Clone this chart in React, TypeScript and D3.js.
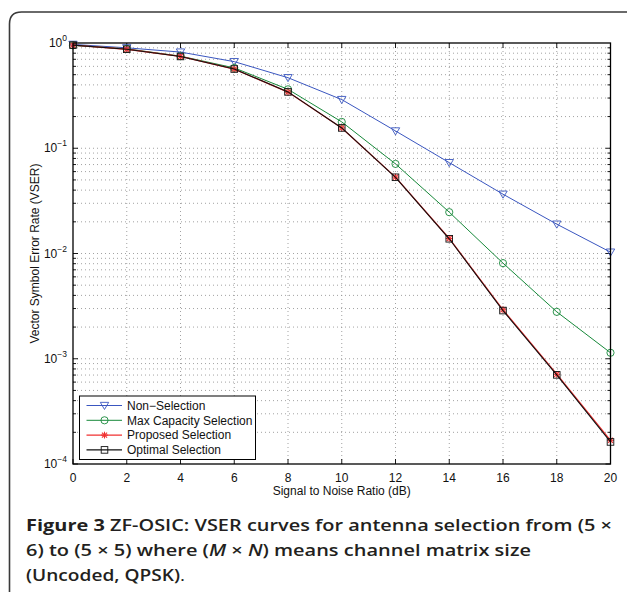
import React from "react";
import * as d3 from "d3";

// SNR points (dB)
const snr = [0, 2, 4, 6, 8, 10, 12, 14, 16, 18, 20];

// VSER values
const nonSelection = [0.97, 0.9, 0.82, 0.665, 0.468, 0.29, 0.146, 0.073, 0.0366, 0.019, 0.0103];
const maxCapacity = [0.95, 0.88, 0.75, 0.58, 0.363, 0.178, 0.071, 0.0247, 0.0081, 0.00279, 0.00114];
const proposed = [0.955, 0.872, 0.745, 0.565, 0.342, 0.156, 0.0532, 0.0139, 0.00292, 0.000712, 0.000168];
const optimal = [0.955, 0.872, 0.745, 0.566, 0.343, 0.156, 0.053, 0.0138, 0.00287, 0.000703, 0.000162];

const xTicks = [0, 2, 4, 6, 8, 10, 12, 14, 16, 18, 20];
const yExponents = [0, -1, -2, -3, -4];

const legendNames = ["Non\u2212Selection", "Max Capacity Selection", "Proposed Selection", "Optimal Selection"];

const W = 627;
const H = 592;
const left = 73, right = 610.5, top = 43, bottom = 464;

const BLUE = "#3a56c0";
const GREEN = "#17893a";
const RED = "#f03030";
const BLACK = "#111";

function Marker(props: { kind: string; x: number; y: number; color: string }) {
    const { kind, x, y, color } = props;
    if (kind === "tri") {
        const s = 4.2;
        return <path d={`M${x - s},${y - s * 0.75}L${x + s},${y - s * 0.75}L${x},${y + s * 0.95}Z`} fill="none" stroke={color} strokeWidth={0.9} />;
    }
    if (kind === "circ") {
        return <circle cx={x} cy={y} r={3.6} fill="none" stroke={color} strokeWidth={0.9} />;
    }
    if (kind === "star") {
        const s = 3.4;
        return (
            <g stroke={color} strokeWidth={1.1}>
                <line x1={x - s} y1={y} x2={x + s} y2={y} />
                <line x1={x} y1={y - s} x2={x} y2={y + s} />
                <line x1={x - s * 0.75} y1={y - s * 0.75} x2={x + s * 0.75} y2={y + s * 0.75} />
                <line x1={x - s * 0.75} y1={y + s * 0.75} x2={x + s * 0.75} y2={y - s * 0.75} />
            </g>
        );
    }
    const s = 3.3;
    return <rect x={x - s} y={y - s} width={2 * s} height={2 * s} fill="none" stroke={color} strokeWidth={0.9} />;
}

export default function App() {
    const x = d3.scaleLinear().domain([0, 20]).range([left, right]);
    const y = d3.scaleLog().domain([1e-4, 1]).range([bottom, top]);

    const line = d3.line<number>()
        .x((_, i) => x(snr[i]))
        .y(d => y(d));

    const series = [
        { name: legendNames[0], values: nonSelection, color: BLUE, kind: "tri", width: 1 },
        { name: legendNames[1], values: maxCapacity, color: GREEN, kind: "circ", width: 1 },
        { name: legendNames[2], values: proposed, color: RED, kind: "star", width: 1.3 },
        { name: legendNames[3], values: optimal, color: BLACK, kind: "sq", width: 1.1 },
    ];

    // minor log positions
    const minors: number[] = [];
    for (let e = -4; e < 0; e++) {
        for (let k = 1; k <= 9; k++) minors.push(k * Math.pow(10, e));
    }

    const font = "'Liberation Sans', Arial, Helvetica, sans-serif";

    return (
        <svg width={W} height={H} style={{ position: "absolute", left: 0, top: 0 }} fontFamily={font}>
            <rect width={W} height={H} fill="#fff" />
            {/* outer frame */}
            <path d={`M9.5,${H}L9.5,24 Q9.5,12 21.5,12 L${W + 2},12`} fill="none" stroke="#3a3a3a" strokeWidth={1.6} />

            {/* grid */}
            <g stroke="#8a8a8a" strokeWidth={0.8} strokeDasharray="1,3">
                {xTicks.slice(1, -1).map(t => (
                    <line key={"gx" + t} x1={x(t)} x2={x(t)} y1={top} y2={bottom} />
                ))}
                {minors.slice(1).map((v, i) => (
                    <line key={"gy" + i} x1={left} x2={right} y1={y(v)} y2={y(v)} />
                ))}
            </g>

            {/* ticks */}
            <g stroke="#000" strokeWidth={0.9}>
                {xTicks.map(t => (
                    <g key={"tx" + t}>
                        <line x1={x(t)} x2={x(t)} y1={bottom} y2={bottom - 5} />
                        <line x1={x(t)} x2={x(t)} y1={top} y2={top + 5} />
                    </g>
                ))}
                {minors.map((v, i) => {
                    const len = i % 9 === 0 ? 5 : 3;
                    return (
                        <g key={"ty" + i}>
                            <line x1={left} x2={left + len} y1={y(v)} y2={y(v)} />
                            <line x1={right} x2={right - len} y1={y(v)} y2={y(v)} />
                        </g>
                    );
                })}
            </g>

            {/* series */}
            {series.map(s => (
                <g key={s.name}>
                    <path d={line(s.values) || ""} fill="none" stroke={s.color} strokeWidth={s.width} />
                    {s.values.map((v, i) => (
                        <Marker key={i} kind={s.kind} x={x(snr[i])} y={y(v)} color={s.color} />
                    ))}
                </g>
            ))}

            {/* axes box */}
            <rect x={left} y={top} width={right - left} height={bottom - top} fill="none" stroke="#000" strokeWidth={1.3} />

            {/* tick labels */}
            <g fontSize={12} fill="#111">
                {xTicks.map(t => (
                    <text key={"lx" + t} x={x(t)} y={482} textAnchor="middle">{t}</text>
                ))}
                {yExponents.map(e => (
                    <text key={"ly" + e} x={67} y={y(Math.pow(10, e)) + 4} textAnchor="end">
                        10
                        <tspan fontSize={8.5} dy={-6}>{e === 0 ? "0" : "\u2212" + -e}</tspan>
                    </text>
                ))}
            </g>

            {/* axis titles */}
            <text x={(left + right) / 2} y={495} textAnchor="middle" fontSize={12} fill="#111">Signal to Noise Ratio (dB)</text>
            <text transform={`translate(39,${(top + bottom) / 2}) rotate(-90)`} textAnchor="middle" fontSize={12} fill="#111">
                Vector Symbol Error Rate (VSER)
            </text>

            {/* legend */}
            <g>
                <rect x={79.5} y={396} width={176} height={63.5} fill="#fff" stroke="#000" strokeWidth={1} />
                {series.map((s, i) => {
                    const ly = 405.5 + i * 14.8;
                    return (
                        <g key={"lg" + i}>
                            <line x1={86.5} x2={122} y1={ly} y2={ly} stroke={s.color} strokeWidth={s.width} />
                            <Marker kind={s.kind} x={104.5} y={ly} color={s.color} />
                            <text x={127} y={ly + 4.3} fontSize={12} fill="#111">{s.name}</text>
                        </g>
                    );
                })}
            </g>

            {/* caption */}
            <g fontFamily="'Open Sans', 'Noto Sans', sans-serif" fontSize={16.5} fill="#231f20" fontWeight={600}>
                <text x={26} y={531} textLength={586} lengthAdjust="spacingAndGlyphs">
                    <tspan fontWeight={700}>Figure 3</tspan> ZF-OSIC: VSER curves for antenna selection from (5 ×
                </text>
                <text x={26} y={556} textLength={505} lengthAdjust="spacingAndGlyphs">
                    6) to (5 × 5) where (<tspan fontStyle="italic">M</tspan> × <tspan fontStyle="italic">N</tspan>) means channel matrix size
                </text>
                <text x={26} y={581} textLength={159} lengthAdjust="spacingAndGlyphs">
                    (Uncoded, QPSK)<tspan fontWeight={400}>.</tspan>
                </text>
            </g>
        </svg>
    );
}
